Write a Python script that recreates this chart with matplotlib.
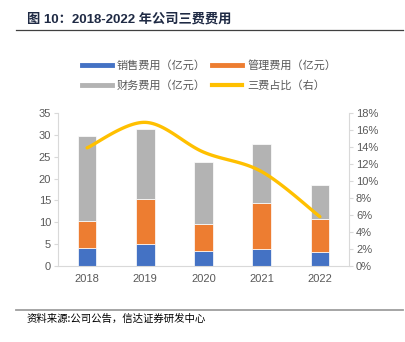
import numpy as np
import matplotlib
matplotlib.use("Agg")
import matplotlib.pyplot as plt
from matplotlib.lines import Line2D
from matplotlib.ticker import PercentFormatter, MultipleLocator

plt.rcParams['font.family'] = ['Liberation Sans', 'Noto Sans CJK SC', 'DejaVu Sans']

years = ['2018', '2019', '2020', '2021', '2022']
sales = [4.05, 5.0, 3.4, 3.8, 3.3]          # 销售费用 (亿元)
admin = [6.25, 10.3, 6.3, 10.5, 7.45]       # 管理费用 (亿元)
fin = [19.4, 16.1, 14.1, 13.5, 7.75]        # 财务费用 (亿元)
ratio = [0.139, 0.169, 0.134, 0.111, 0.058] # 三费占比 (右)

series_names = ['销售费用（亿元）', '管理费用（亿元）', '财务费用（亿元）', '三费占比（右）']
colors = ['#4472C4', '#ED7D31', '#B3B3B3', '#FFC000']

title = '图 10：2018-2022 年公司三费费用'
source = '资料来源:公司公告，信达证券研发中心'

W, H = 405, 342
fig = plt.figure(figsize=(W / 100, H / 100), dpi=100)

ax = fig.add_axes([58 / W, 1 - 266 / H, (349 - 58) / W, (266 - 113) / H])
x = np.arange(len(years))
bw = 0.32
sales_a = np.array(sales); admin_a = np.array(admin); fin_a = np.array(fin)
ax.bar(x, sales_a, bw, color=colors[0], edgecolor='white', linewidth=0.5, zorder=2)
ax.bar(x, admin_a, bw, bottom=sales_a, color=colors[1], edgecolor='white', linewidth=0.5, zorder=2)
ax.bar(x, fin_a, bw, bottom=sales_a + admin_a, color=colors[2], edgecolor='white', linewidth=0.5, zorder=2)

ax.set_xlim(-0.5, len(years) - 0.5)
ax.set_ylim(0, 35)
ax.yaxis.set_major_locator(MultipleLocator(5))
ax.set_xticks(x)
ax.set_xticklabels(years)

spine_c = '#D9D9D9'
tick_c = '#595959'
for s in ['top', 'right']:
    ax.spines[s].set_visible(False)
ax.spines['left'].set_color(spine_c)
ax.spines['bottom'].set_color(spine_c)
ax.tick_params(axis='y', colors=spine_c, labelcolor=tick_c, labelsize=8, length=3, width=0.8, pad=2)
ax.tick_params(axis='x', length=0, labelcolor=tick_c, labelsize=8, pad=6)

ax2 = ax.twinx()
ax2.set_ylim(0, 0.18)
ax2.yaxis.set_major_locator(MultipleLocator(0.02))
ax2.yaxis.set_major_formatter(PercentFormatter(1.0, decimals=0))
for s in ['top', 'left', 'bottom']:
    ax2.spines[s].set_visible(False)
ax2.spines['right'].set_color(spine_c)
ax2.tick_params(axis='y', colors=spine_c, labelcolor=tick_c, labelsize=8, length=3, width=0.8, pad=2)

# Excel-style smoothed line (Bezier through the data points)
xp = x.astype(float); yp = np.array(ratio)
pts_x, pts_y = [], []
n = len(xp)
t = np.linspace(0, 1, 30)
for i in range(n - 1):
    p0 = (xp[max(i - 1, 0)], yp[max(i - 1, 0)])
    p1 = (xp[i], yp[i]); p2 = (xp[i + 1], yp[i + 1])
    p3 = (xp[min(i + 2, n - 1)], yp[min(i + 2, n - 1)])
    c1 = (p1[0] + (p2[0] - p0[0]) / 6, p1[1] + (p2[1] - p0[1]) / 6)
    c2 = (p2[0] - (p3[0] - p1[0]) / 6, p2[1] - (p3[1] - p1[1]) / 6)
    bx = (1 - t) ** 3 * p1[0] + 3 * (1 - t) ** 2 * t * c1[0] + 3 * (1 - t) * t ** 2 * c2[0] + t ** 3 * p2[0]
    by = (1 - t) ** 3 * p1[1] + 3 * (1 - t) ** 2 * t * c1[1] + 3 * (1 - t) * t ** 2 * c2[1] + t ** 3 * p2[1]
    pts_x.extend(bx); pts_y.extend(by)
ax2.plot(pts_x, pts_y, color=colors[3], lw=2.4, solid_capstyle='round', zorder=3)

handles = [Line2D([], [], color=colors[0], lw=3.5),
           Line2D([], [], color=colors[2], lw=3.5),
           Line2D([], [], color=colors[1], lw=3.5),
           Line2D([], [], color=colors[3], lw=3)]
labels = [series_names[0], series_names[2], series_names[1], series_names[3]]
leg = fig.legend(handles, labels, ncol=2, loc='center', bbox_to_anchor=(209 / W, 1 - 75.5 / H),
                 frameon=False, fontsize=8, handlelength=2.7, handletextpad=0.45,
                 columnspacing=0.6, labelspacing=0.9,
                 prop={'family': ['Noto Sans CJK SC'], 'size': 8})
for txt in leg.get_texts():
    txt.set_color(tick_c)

fig.text(27 / W, 1 - 19 / H, title, fontsize=9.5, fontweight='bold', color='#1F2A44',
         va='center', ha='left', family=['Liberation Sans', 'Noto Sans CJK SC'])
fig.add_artist(Line2D([16 / W, 403 / W], [1 - 30 / H, 1 - 30 / H], color='#404040', lw=0.9))
fig.add_artist(Line2D([16 / W, 403 / W], [1 - 310 / H, 1 - 310 / H], color='#9E9E9E', lw=1.3))
fig.text(27 / W, 1 - 319 / H, source, fontsize=7.5, color='#000000', va='center', ha='left',
         family=['Noto Sans CJK SC'])

fig.savefig('out.png', dpi=100)
